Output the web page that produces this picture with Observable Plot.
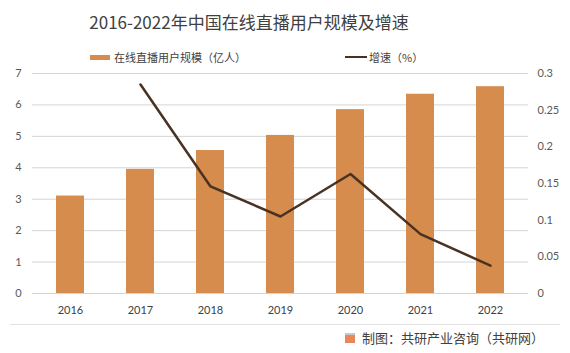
<!DOCTYPE html>
<html>
<head>
<meta charset="utf-8">
<script src="https://cdn.jsdelivr.net/npm/d3@7"></script>
<script src="https://cdn.jsdelivr.net/npm/@observablehq/plot@0.6"></script>
<style>
  html, body { margin: 0; padding: 0; background: #fff; }
  #wrap { position: relative; width: 570px; height: 353px; overflow: hidden; font-family: "Noto Sans CJK SC", "Noto Sans", sans-serif; color: #404040; }
  #title { position: absolute; left: 0; width: 498px; top: 8px; text-align: center; font-size: 17px; line-height: 28px; color: #404040; }
  .leg { position: absolute; top: 48px; font-size: 11px; line-height: 18px; color: #404040; display: flex; align-items: center; }
  .sw-bar { width: 20px; height: 5px; background: #D68C4D; margin-right: 4px; }
  .sw-line { width: 22px; height: 2px; background: #4A3222; margin-right: 2px; }
  #chart { position: absolute; left: 0; top: 63px; }
  #border { position: absolute; left: 10px; width: 550px; top: 324px; height: 1px; background: #e3e3e3; }
  #footer { position: absolute; left: 345px; top: 329px; font-size: 13px; line-height: 18px; color: #404040; display: flex; align-items: center; }
  .icon { width: 10px; height: 10px; background: #E8875A; margin-right: 7px; border-top: 2px solid #c9c9c9; box-sizing: border-box; }
</style>
</head>
<body>
<div id="wrap">
  <div id="title">2016-2022年中国在线直播用户规模及增速</div>
  <div class="leg" style="left:90px"><div class="sw-bar"></div>在线直播用户规模（亿人）</div>
  <div class="leg" style="left:345px"><div class="sw-line"></div>增速（%）</div>
  <div id="chart"></div>
  <div id="border"></div>
  <div id="footer"><div class="icon"></div>制图：共研产业咨询（共研网）</div>
</div>
<script>
const years = ["2016", "2017", "2018", "2019", "2020", "2021", "2022"];
const users = [3.1, 3.95, 4.55, 5.03, 5.85, 6.34, 6.58];
const growthYears = ["2017", "2018", "2019", "2020", "2021", "2022"];
const growth = [0.285, 0.146, 0.105, 0.163, 0.081, 0.038];
const leftTicks = [0, 1, 2, 3, 4, 5, 6, 7];
const rightTicks = [0, 0.05, 0.1, 0.15, 0.2, 0.25, 0.3];
const rightTickLabels = ["0", "0.05", "0.1", "0.15", "0.2", "0.25", "0.3"];

const leftMax = 7, rightMax = 0.3;
const toLeft = v => v / rightMax * leftMax;

const barData = years.map((y, i) => ({year: y, value: users[i]}));
const lineData = growthYears.map((y, i) => ({year: y, value: toLeft(growth[i])}));
const rightTickData = rightTicks.map((t, i) => ({pos: toLeft(t), label: rightTickLabels[i]}));
const gridData = leftTicks.map(t => ({v: t}));

const numFont = "Lato, 'Open Sans', sans-serif";

const plot = Plot.plot({
  width: 570,
  height: 265,
  marginTop: 10,
  marginBottom: 35,
  marginLeft: 32,
  marginRight: 42,
  style: {fontFamily: numFont, fontSize: "11px", color: "#595959", background: "transparent"},
  x: {domain: years, paddingInner: 0.6, paddingOuter: 0.3, label: null},
  y: {domain: [0, leftMax], label: null},
  marks: [
    Plot.ruleY(gridData, {y: "v", stroke: "#d4d4d4", strokeWidth: 1}),
    Plot.barY(barData, {x: "year", y: "value", fill: "#D68C4D"}),
    Plot.line(lineData, {x: "year", y: "value", stroke: "#4A3222", strokeWidth: 2.5, curve: "linear"}),
    Plot.axisX({tickSize: 0, tickPadding: 13, fill: "#404040", fontSize: 11}),
    Plot.axisY(leftTicks, {anchor: "left", tickSize: 0, tickPadding: 10, fill: "#595959", textAnchor: "middle", dx: -4}),
    Plot.text(rightTickData, {x: () => "2022", y: "pos", text: "label", textAnchor: "start", dx: 47, fill: "#595959", fontSize: 11})
  ]
});
document.getElementById("chart").appendChild(plot);
</script>
</body>
</html>
